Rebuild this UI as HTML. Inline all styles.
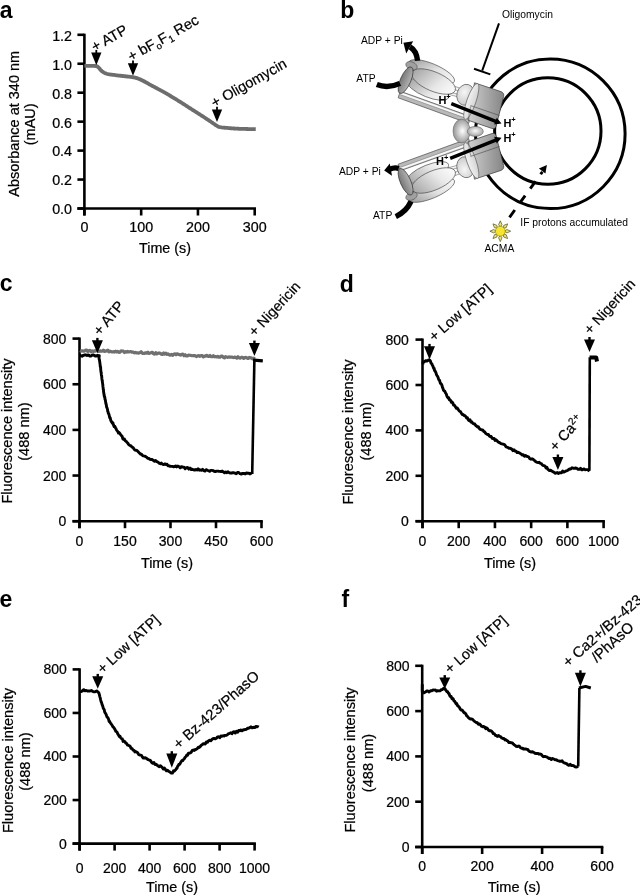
<!DOCTYPE html>
<html><head><meta charset="utf-8"><style>
html,body{margin:0;padding:0;background:#fff;}
svg{display:block;will-change:transform;}
text{font-family:"Liberation Sans", sans-serif;}
text.n{stroke:#000;stroke-width:0.22px;}
</style></head><body>
<svg width="640" height="896" viewBox="0 0 640 896">
<rect width="640" height="896" fill="#fff"/>
<text x="-0.30" y="17.50" font-size="23" text-anchor="start" font-weight="bold" fill="#000">a</text>
<line x1="84.40" y1="33.70" x2="84.40" y2="215.50" stroke="#000" stroke-width="2.6" stroke-linecap="butt"/>
<line x1="77.40" y1="208.50" x2="256.01" y2="208.50" stroke="#000" stroke-width="2.6" stroke-linecap="butt"/>
<line x1="77.40" y1="34.80" x2="84.40" y2="34.80" stroke="#000" stroke-width="2.6" stroke-linecap="butt"/>
<line x1="77.40" y1="63.75" x2="84.40" y2="63.75" stroke="#000" stroke-width="2.6" stroke-linecap="butt"/>
<line x1="77.40" y1="92.70" x2="84.40" y2="92.70" stroke="#000" stroke-width="2.6" stroke-linecap="butt"/>
<line x1="77.40" y1="121.65" x2="84.40" y2="121.65" stroke="#000" stroke-width="2.6" stroke-linecap="butt"/>
<line x1="77.40" y1="150.60" x2="84.40" y2="150.60" stroke="#000" stroke-width="2.6" stroke-linecap="butt"/>
<line x1="77.40" y1="179.55" x2="84.40" y2="179.55" stroke="#000" stroke-width="2.6" stroke-linecap="butt"/>
<line x1="141.17" y1="208.50" x2="141.17" y2="215.50" stroke="#000" stroke-width="2.6" stroke-linecap="butt"/>
<line x1="197.94" y1="208.50" x2="197.94" y2="215.50" stroke="#000" stroke-width="2.6" stroke-linecap="butt"/>
<line x1="254.71" y1="208.50" x2="254.71" y2="215.50" stroke="#000" stroke-width="2.6" stroke-linecap="butt"/>
<text x="72.00" y="40.68" font-size="14.3" text-anchor="end" class="n" fill="#000">1.2</text>
<text x="72.00" y="69.63" font-size="14.3" text-anchor="end" class="n" fill="#000">1.0</text>
<text x="72.00" y="98.58" font-size="14.3" text-anchor="end" class="n" fill="#000">0.8</text>
<text x="72.00" y="127.53" font-size="14.3" text-anchor="end" class="n" fill="#000">0.6</text>
<text x="72.00" y="156.48" font-size="14.3" text-anchor="end" class="n" fill="#000">0.4</text>
<text x="72.00" y="185.43" font-size="14.3" text-anchor="end" class="n" fill="#000">0.2</text>
<text x="141.17" y="232.20" font-size="14.3" text-anchor="middle" class="n" fill="#000">100</text>
<text x="197.94" y="232.20" font-size="14.3" text-anchor="middle" class="n" fill="#000">200</text>
<text x="254.71" y="232.20" font-size="14.3" text-anchor="middle" class="n" fill="#000">300</text>
<line x1="77.40" y1="208.50" x2="84.40" y2="208.50" stroke="#000" stroke-width="2.6" stroke-linecap="butt"/>
<text x="72.00" y="214.38" font-size="14.3" text-anchor="end" class="n" fill="#000">0.0</text>
<line x1="84.40" y1="208.50" x2="84.40" y2="215.50" stroke="#000" stroke-width="2.6" stroke-linecap="butt"/>
<text x="84.40" y="232.20" font-size="14.3" text-anchor="middle" class="n" fill="#000">0</text>
<text x="165.00" y="253.00" font-size="14.3" text-anchor="middle" class="n" fill="#000">Time (s)</text>
<text x="0.00" y="0.00" font-size="14.5" text-anchor="middle" class="n" fill="#000" transform="translate(18.60,123.80) rotate(-90)">Absorbance at 340 nm</text>
<text x="0.00" y="0.00" font-size="14.5" text-anchor="middle" class="n" fill="#000" transform="translate(35.30,124.30) rotate(-90)">(mAU)</text>
<path d="M84.40,65.90 L85.02,65.90 L85.85,65.89 L86.85,65.88 L87.96,65.87 L89.15,65.86 L90.38,65.85 L91.59,65.86 L92.76,65.87 L93.82,65.90 L94.75,65.94 L95.50,66.00 L97.11,66.34 L97.83,66.84 L98.50,67.50 L99.39,68.42 L100.23,69.51 L101.10,70.50 L102.00,71.29 L102.93,71.98 L104.00,72.60 L104.84,73.02 L105.70,73.41 L106.74,73.76 L108.10,74.10 L108.91,74.26 L109.79,74.41 L110.72,74.55 L111.73,74.69 L112.82,74.83 L113.99,74.98 L115.24,75.13 L116.60,75.30 L117.45,75.40 L118.40,75.52 L119.41,75.63 L120.48,75.75 L121.59,75.88 L122.72,76.00 L123.86,76.13 L124.98,76.26 L126.08,76.38 L127.14,76.50 L128.14,76.61 L129.06,76.72 L129.88,76.81 L130.60,76.90 L132.38,77.12 L133.42,77.27 L134.15,77.40 L135.00,77.60 L136.00,77.86 L136.96,78.14 L137.94,78.48 L139.00,78.90 L139.92,79.29 L140.87,79.73 L141.86,80.21 L142.90,80.73 L144.00,81.30 L144.76,81.71 L145.48,82.10 L146.20,82.51 L146.99,82.96 L147.89,83.47 L148.98,84.08 L150.30,84.80 L150.97,85.16 L151.69,85.55 L152.46,85.96 L153.28,86.39 L154.13,86.85 L155.02,87.31 L155.93,87.80 L156.87,88.29 L157.82,88.80 L158.78,89.31 L159.74,89.83 L160.70,90.35 L161.65,90.87 L162.59,91.38 L163.51,91.90 L164.40,92.40 L165.28,92.90 L166.15,93.41 L167.03,93.92 L167.90,94.43 L168.78,94.95 L169.65,95.47 L170.53,95.99 L171.40,96.51 L172.27,97.04 L173.15,97.57 L174.02,98.10 L174.90,98.64 L175.77,99.18 L176.65,99.72 L177.52,100.26 L178.40,100.80 L179.28,101.35 L180.16,101.90 L181.04,102.45 L181.92,103.01 L182.80,103.57 L183.68,104.13 L184.57,104.70 L185.45,105.26 L186.33,105.83 L187.22,106.40 L188.10,106.97 L188.98,107.54 L189.86,108.10 L190.74,108.67 L191.62,109.24 L192.50,109.80 L193.38,110.37 L194.28,110.94 L195.18,111.51 L196.09,112.09 L197.00,112.68 L197.91,113.26 L198.82,113.84 L199.72,114.42 L200.62,114.99 L201.51,115.56 L202.39,116.13 L203.25,116.68 L204.09,117.23 L204.92,117.77 L205.72,118.29 L206.50,118.80 L207.52,119.48 L208.55,120.16 L209.56,120.85 L210.56,121.53 L211.53,122.20 L212.47,122.84 L213.37,123.46 L214.22,124.05 L215.02,124.59 L215.75,125.09 L216.42,125.52 L217.00,125.90 L218.66,126.86 L219.50,127.00 L220.32,127.22 L221.29,127.38 L223.40,127.60 L224.08,127.66 L224.84,127.74 L225.67,127.81 L226.56,127.90 L227.51,127.98 L228.51,128.07 L229.55,128.16 L230.63,128.24 L231.74,128.33 L232.87,128.41 L234.02,128.49 L235.18,128.57 L236.34,128.64 L237.50,128.70 L238.44,128.74 L239.45,128.78 L240.51,128.82 L241.63,128.86 L242.78,128.90 L243.95,128.93 L245.14,128.96 L246.33,128.99 L247.51,129.02 L248.66,129.04 L249.79,129.07 L250.86,129.09 L251.89,129.11 L252.84,129.13 L253.72,129.15 L254.50,129.17 L255.18,129.19 L255.75,129.20" fill="none" stroke="#6d6d6d" stroke-width="3.8" stroke-linejoin="round" stroke-linecap="butt"/>
<path d="M91.15,52.50 L101.45,52.50 L96.30,65.30 Z" fill="#000"/>
<line x1="96.30" y1="49.90" x2="96.30" y2="53.50" stroke="#000" stroke-width="1.8" stroke-linecap="butt"/>
<path d="M127.85,63.20 L138.15,63.20 L133.00,75.80 Z" fill="#000"/>
<line x1="133.00" y1="60.60" x2="133.00" y2="64.20" stroke="#000" stroke-width="1.8" stroke-linecap="butt"/>
<path d="M211.85,109.40 L222.15,109.40 L217.00,122.00 Z" fill="#000"/>
<line x1="217.00" y1="106.80" x2="217.00" y2="110.40" stroke="#000" stroke-width="1.8" stroke-linecap="butt"/>
<text class="n" x="0" y="0" font-size="14.5" transform="translate(94.77,51.97) scale(1.0,1) rotate(-29.5)">+ ATP</text>
<text class="n" x="0" y="0" font-size="14.5" transform="translate(131.22,61.77) scale(1.0,1) rotate(-29.5)">+ bF<tspan font-size="9.5" dy="3">o</tspan><tspan dy="-3">F</tspan><tspan font-size="9.5" dy="3">1</tspan><tspan dy="-3"> Rec</tspan></text>
<text class="n" x="0" y="0" font-size="14.5" transform="translate(214.52,107.97) scale(1.0,1) rotate(-29.5)">+ Oligomycin</text>
<text x="-0.30" y="291.00" font-size="23" text-anchor="start" font-weight="bold" fill="#000">c</text>
<line x1="79.50" y1="337.50" x2="79.50" y2="528.20" stroke="#000" stroke-width="2.6" stroke-linecap="butt"/>
<line x1="72.50" y1="521.20" x2="262.80" y2="521.20" stroke="#000" stroke-width="2.6" stroke-linecap="butt"/>
<line x1="72.50" y1="338.60" x2="79.50" y2="338.60" stroke="#000" stroke-width="2.6" stroke-linecap="butt"/>
<line x1="72.50" y1="384.25" x2="79.50" y2="384.25" stroke="#000" stroke-width="2.6" stroke-linecap="butt"/>
<line x1="72.50" y1="429.90" x2="79.50" y2="429.90" stroke="#000" stroke-width="2.6" stroke-linecap="butt"/>
<line x1="72.50" y1="475.55" x2="79.50" y2="475.55" stroke="#000" stroke-width="2.6" stroke-linecap="butt"/>
<line x1="72.50" y1="521.20" x2="79.50" y2="521.20" stroke="#000" stroke-width="2.6" stroke-linecap="butt"/>
<line x1="79.50" y1="521.20" x2="79.50" y2="528.20" stroke="#000" stroke-width="2.6" stroke-linecap="butt"/>
<line x1="125.00" y1="521.20" x2="125.00" y2="528.20" stroke="#000" stroke-width="2.6" stroke-linecap="butt"/>
<line x1="170.50" y1="521.20" x2="170.50" y2="528.20" stroke="#000" stroke-width="2.6" stroke-linecap="butt"/>
<line x1="216.00" y1="521.20" x2="216.00" y2="528.20" stroke="#000" stroke-width="2.6" stroke-linecap="butt"/>
<line x1="261.50" y1="521.20" x2="261.50" y2="528.20" stroke="#000" stroke-width="2.6" stroke-linecap="butt"/>
<text x="66.30" y="343.57" font-size="14" text-anchor="end" class="n" fill="#000">800</text>
<text x="66.30" y="389.22" font-size="14" text-anchor="end" class="n" fill="#000">600</text>
<text x="66.30" y="434.87" font-size="14" text-anchor="end" class="n" fill="#000">400</text>
<text x="66.30" y="480.52" font-size="14" text-anchor="end" class="n" fill="#000">200</text>
<text x="66.30" y="526.17" font-size="14" text-anchor="end" class="n" fill="#000">0</text>
<text x="79.50" y="545.60" font-size="14" text-anchor="middle" class="n" fill="#000">0</text>
<text x="125.00" y="545.60" font-size="14" text-anchor="middle" class="n" fill="#000">150</text>
<text x="170.50" y="545.60" font-size="14" text-anchor="middle" class="n" fill="#000">300</text>
<text x="216.00" y="545.60" font-size="14" text-anchor="middle" class="n" fill="#000">450</text>
<text x="261.50" y="545.60" font-size="14" text-anchor="middle" class="n" fill="#000">600</text>
<text x="167.00" y="567.80" font-size="14.4" text-anchor="middle" class="n" fill="#000">Time (s)</text>
<text x="0.00" y="0.00" font-size="14.6" text-anchor="middle" class="n" fill="#000" transform="translate(12.00,431.00) rotate(-90)">Fluorescence intensity</text>
<text x="0.00" y="0.00" font-size="14.6" text-anchor="middle" class="n" fill="#000" transform="translate(28.90,431.60) rotate(-90)">(488 nm)</text>
<path d="M80.00,350.53 L81.11,351.07 L82.22,350.74 L83.33,351.15 L84.44,351.18 L85.56,350.16 L86.67,350.06 L87.78,351.53 L88.89,350.48 L90.00,350.42 L91.11,351.78 L92.22,350.82 L93.33,351.47 L94.44,350.81 L95.56,351.09 L96.67,350.20 L97.78,351.06 L98.89,351.47 L100.00,350.84 L101.11,351.28 L102.22,351.19 L103.33,350.14 L104.44,351.43 L105.56,351.17 L106.67,350.69 L107.78,350.25 L108.89,351.79 L110.00,351.13 L111.11,351.61 L112.22,351.94 L113.33,351.69 L114.44,352.10 L115.56,351.19 L116.67,351.97 L117.78,351.37 L118.89,352.29 L120.00,352.23 L121.11,350.87 L122.22,350.98 L123.33,351.17 L124.44,352.55 L125.56,351.64 L126.67,352.03 L127.78,351.48 L128.89,351.90 L130.00,351.72 L131.11,351.70 L132.22,352.16 L133.33,352.20 L134.44,352.82 L135.56,352.46 L136.67,352.95 L137.78,352.86 L138.89,353.14 L140.00,352.61 L141.12,351.77 L142.25,353.10 L143.38,353.36 L144.50,353.32 L145.62,352.79 L146.75,353.12 L147.88,352.29 L149.00,353.48 L150.12,353.09 L151.25,352.65 L152.38,352.32 L153.50,353.82 L154.62,354.13 L155.75,352.59 L156.88,353.94 L158.00,353.31 L159.12,352.92 L160.25,353.25 L161.38,354.18 L162.50,354.44 L163.62,353.02 L164.75,354.12 L165.88,353.17 L167.00,354.45 L168.12,353.83 L169.25,354.89 L170.38,355.15 L171.50,354.36 L172.62,355.32 L173.75,354.16 L174.89,353.80 L176.03,354.80 L177.17,353.84 L178.32,354.20 L179.46,354.64 L180.60,355.06 L181.74,354.31 L182.88,354.16 L184.02,355.71 L185.16,354.77 L186.30,356.00 L187.45,355.94 L188.59,355.07 L189.73,355.28 L190.87,355.45 L192.01,355.73 L193.15,355.71 L194.29,355.70 L195.43,355.87 L196.58,356.51 L197.72,355.79 L198.86,355.72 L200.00,356.30 L201.11,355.48 L202.22,355.65 L203.33,356.92 L204.44,356.15 L205.56,356.25 L206.67,355.33 L207.78,356.11 L208.89,356.46 L210.00,355.50 L211.11,356.63 L212.22,356.71 L213.33,355.73 L214.44,356.80 L215.56,356.57 L216.67,357.00 L217.78,356.46 L218.89,357.15 L220.00,357.26 L221.11,356.03 L222.22,356.15 L223.33,357.31 L224.44,357.87 L225.56,356.64 L226.67,357.07 L227.78,357.36 L228.89,356.92 L230.00,357.06 L231.14,357.01 L232.27,357.16 L233.41,357.62 L234.55,357.14 L235.68,357.33 L236.82,358.09 L237.95,356.80 L239.09,357.82 L240.23,358.17 L241.36,357.46 L242.50,357.35 L243.64,358.45 L244.77,357.48 L245.91,357.44 L247.05,357.93 L248.18,358.46 L249.32,357.43 L250.45,357.88 L251.59,357.95 L252.73,358.90 L253.86,358.24 L255.00,359.04" fill="none" stroke="#707070" stroke-width="3.2" stroke-linejoin="round" stroke-linecap="butt"/>
<path d="M79.50,355.00 L80.16,355.30 L81.00,355.85 L82.00,356.26 L83.12,355.46 L84.35,355.02 L85.66,354.81 L87.02,355.52 L88.41,354.89 L89.80,355.99 L91.17,356.03 L92.49,354.85 L93.74,355.03 L94.89,356.00 L95.92,355.74 L96.80,356.09 L97.50,355.32 L99.29,355.63 L99.00,357.63 L99.20,359.37 L99.39,359.44 L99.58,360.71 L99.76,362.06 L99.94,363.33 L100.12,364.59 L100.30,366.76 L100.45,366.42 L100.59,367.15 L100.73,369.84 L100.86,370.75 L101.00,372.02 L101.15,372.19 L101.32,374.39 L101.50,375.77 L101.62,375.47 L101.76,377.48 L101.90,378.78 L102.04,379.66 L102.19,380.64 L102.35,381.49 L102.50,382.85 L102.66,383.90 L102.81,384.85 L102.97,386.98 L103.12,387.58 L103.26,389.58 L103.40,389.18 L103.61,392.14 L103.81,393.03 L104.01,394.60 L104.20,395.62 L104.39,396.64 L104.59,397.06 L104.79,397.06 L105.00,399.44 L105.25,399.66 L105.52,401.13 L105.78,403.02 L106.06,404.00 L106.33,405.00 L106.62,407.13 L106.90,407.70 L107.19,408.35 L107.48,409.33 L107.78,411.53 L108.08,411.93 L108.38,413.53 L108.69,413.77 L109.00,414.46 L109.40,416.26 L109.77,417.81 L110.16,417.66 L110.64,419.86 L111.25,421.36 L111.73,422.09 L112.28,423.15 L112.88,422.79 L113.52,425.04 L114.16,426.59 L114.81,426.23 L115.43,427.66 L116.00,428.58 L116.68,430.10 L117.28,430.82 L117.87,431.73 L118.48,433.09 L119.17,432.58 L120.00,433.70 L120.64,434.62 L121.33,435.46 L122.08,436.26 L122.86,438.82 L123.66,439.55 L124.48,439.11 L125.30,440.78 L126.11,441.33 L126.90,442.17 L127.77,443.12 L128.63,444.51 L129.49,445.23 L130.35,445.62 L131.23,446.11 L132.12,447.14 L133.04,447.54 L134.00,449.10 L134.89,450.09 L135.81,450.19 L136.77,450.35 L137.74,451.23 L138.71,452.27 L139.69,453.35 L140.65,454.32 L141.59,454.21 L142.50,455.54 L143.62,455.90 L144.70,456.19 L145.76,456.67 L146.80,457.44 L147.85,458.34 L148.91,458.34 L150.00,459.35 L151.12,459.44 L152.25,459.54 L153.39,460.53 L154.55,461.28 L155.70,460.60 L156.85,461.66 L158.00,462.07 L159.15,463.27 L160.29,463.75 L161.44,463.09 L162.59,464.38 L163.73,464.51 L164.87,463.87 L166.00,464.54 L167.05,464.20 L167.98,465.68 L168.89,465.63 L169.85,466.26 L170.92,466.31 L172.20,466.33 L173.75,466.72 L174.65,466.57 L175.64,465.90 L176.69,466.94 L177.81,466.07 L178.98,466.50 L180.19,467.82 L181.42,466.69 L182.68,466.96 L183.94,467.15 L185.20,468.74 L186.45,467.65 L187.67,467.54 L188.86,469.17 L190.00,468.02 L191.19,469.47 L192.38,469.31 L193.55,469.74 L194.71,470.08 L195.86,469.53 L197.01,470.05 L198.15,468.79 L199.29,470.22 L200.43,469.88 L201.56,470.35 L202.70,469.37 L203.85,470.64 L205.00,471.08 L206.15,469.62 L207.30,470.20 L208.44,470.73 L209.57,471.31 L210.71,470.35 L211.85,470.34 L212.99,470.56 L214.14,471.32 L215.29,471.66 L216.45,471.11 L217.62,471.16 L218.81,471.31 L220.00,471.33 L221.12,471.55 L222.26,471.05 L223.40,471.90 L224.56,472.86 L225.72,471.96 L226.89,472.66 L228.07,471.71 L229.24,472.77 L230.42,472.99 L231.59,472.95 L232.77,472.76 L233.93,472.80 L235.10,473.17 L236.25,473.72 L237.44,472.45 L238.68,472.44 L239.98,473.69 L241.29,474.07 L242.62,473.43 L243.94,473.37 L245.24,473.93 L246.50,473.04 L247.69,473.25 L248.81,473.18 L249.84,473.93 L250.76,473.49 L251.55,473.38 L252.20,474.24" fill="none" stroke="#000" stroke-width="2.9" stroke-linejoin="round" stroke-linecap="butt"/>
<path d="M252.20,473.90 L254.40,359.20" fill="none" stroke="#000" stroke-width="2.6" stroke-linejoin="round" stroke-linecap="butt"/>
<path d="M253.20,360.00 L262.80,360.80" fill="none" stroke="#000" stroke-width="3.2" stroke-linejoin="round" stroke-linecap="butt"/>
<path d="M91.90,340.30 L102.90,340.30 L97.40,353.30 Z" fill="#000"/>
<line x1="97.40" y1="337.90" x2="97.40" y2="341.30" stroke="#000" stroke-width="2.4" stroke-linecap="butt"/>
<path d="M248.90,343.00 L259.90,343.00 L254.40,356.00 Z" fill="#000"/>
<line x1="254.40" y1="340.60" x2="254.40" y2="344.00" stroke="#000" stroke-width="2.4" stroke-linecap="butt"/>
<text class="n" x="0" y="0" font-size="14.7" transform="translate(99.97,336.60) scale(1.0,1) rotate(-50.5)">+ ATP</text>
<text class="n" x="0" y="0" font-size="14.4" transform="translate(254.78,337.32) scale(1.0,1) rotate(-47.2)">+ Nigericin</text>
<text x="339.70" y="291.60" font-size="23" text-anchor="start" font-weight="bold" fill="#000">d</text>
<line x1="422.50" y1="338.50" x2="422.50" y2="528.20" stroke="#000" stroke-width="2.6" stroke-linecap="butt"/>
<line x1="415.50" y1="521.20" x2="604.90" y2="521.20" stroke="#000" stroke-width="2.6" stroke-linecap="butt"/>
<line x1="415.50" y1="339.60" x2="422.50" y2="339.60" stroke="#000" stroke-width="2.6" stroke-linecap="butt"/>
<line x1="415.50" y1="385.00" x2="422.50" y2="385.00" stroke="#000" stroke-width="2.6" stroke-linecap="butt"/>
<line x1="415.50" y1="430.40" x2="422.50" y2="430.40" stroke="#000" stroke-width="2.6" stroke-linecap="butt"/>
<line x1="415.50" y1="475.80" x2="422.50" y2="475.80" stroke="#000" stroke-width="2.6" stroke-linecap="butt"/>
<line x1="415.50" y1="521.20" x2="422.50" y2="521.20" stroke="#000" stroke-width="2.6" stroke-linecap="butt"/>
<line x1="422.50" y1="521.20" x2="422.50" y2="528.20" stroke="#000" stroke-width="2.6" stroke-linecap="butt"/>
<line x1="458.72" y1="521.20" x2="458.72" y2="528.20" stroke="#000" stroke-width="2.6" stroke-linecap="butt"/>
<line x1="494.94" y1="521.20" x2="494.94" y2="528.20" stroke="#000" stroke-width="2.6" stroke-linecap="butt"/>
<line x1="531.16" y1="521.20" x2="531.16" y2="528.20" stroke="#000" stroke-width="2.6" stroke-linecap="butt"/>
<line x1="567.38" y1="521.20" x2="567.38" y2="528.20" stroke="#000" stroke-width="2.6" stroke-linecap="butt"/>
<line x1="603.60" y1="521.20" x2="603.60" y2="528.20" stroke="#000" stroke-width="2.6" stroke-linecap="butt"/>
<text x="408.80" y="344.57" font-size="14" text-anchor="end" class="n" fill="#000">800</text>
<text x="408.80" y="389.97" font-size="14" text-anchor="end" class="n" fill="#000">600</text>
<text x="408.80" y="435.37" font-size="14" text-anchor="end" class="n" fill="#000">400</text>
<text x="408.80" y="480.77" font-size="14" text-anchor="end" class="n" fill="#000">200</text>
<text x="408.80" y="526.17" font-size="14" text-anchor="end" class="n" fill="#000">0</text>
<text x="422.50" y="545.60" font-size="14" text-anchor="middle" class="n" fill="#000">0</text>
<text x="458.72" y="545.60" font-size="14" text-anchor="middle" class="n" fill="#000">200</text>
<text x="494.94" y="545.60" font-size="14" text-anchor="middle" class="n" fill="#000">400</text>
<text x="531.16" y="545.60" font-size="14" text-anchor="middle" class="n" fill="#000">600</text>
<text x="567.38" y="545.60" font-size="14" text-anchor="middle" class="n" fill="#000">600</text>
<text x="603.60" y="545.60" font-size="14" text-anchor="middle" class="n" fill="#000">1000</text>
<text x="510.00" y="567.50" font-size="14.4" text-anchor="middle" class="n" fill="#000">Time (s)</text>
<text x="0.00" y="0.00" font-size="14.6" text-anchor="middle" class="n" fill="#000" transform="translate(353.40,432.00) rotate(-90)">Fluorescence intensity</text>
<text x="0.00" y="0.00" font-size="14.6" text-anchor="middle" class="n" fill="#000" transform="translate(370.50,431.30) rotate(-90)">(488 nm)</text>
<path d="M422.80,364.22 L423.31,362.02 L424.40,361.62 L425.40,360.69 L426.67,361.11 L427.96,360.41 L429.00,359.88 L429.83,360.33 L430.37,360.93 L431.00,362.96 L431.45,363.52 L431.88,363.88 L432.36,365.10 L432.96,366.19 L433.75,368.59 L434.12,368.22 L434.52,370.59 L434.95,370.60 L435.41,371.80 L435.90,372.61 L436.40,374.35 L436.91,375.45 L437.44,376.10 L437.96,377.10 L438.49,378.66 L439.00,380.02 L439.51,380.28 L440.00,381.92 L440.51,383.43 L441.01,383.64 L441.49,384.30 L441.97,385.40 L442.45,387.36 L442.93,388.37 L443.43,389.96 L443.94,390.86 L444.47,390.83 L445.03,391.81 L445.62,393.00 L446.25,393.94 L446.82,395.78 L447.42,396.99 L448.05,397.99 L448.69,397.76 L449.36,399.79 L450.04,399.72 L450.73,400.84 L451.43,402.31 L452.13,402.05 L452.83,402.94 L453.54,405.14 L454.23,405.01 L454.92,405.95 L455.60,407.14 L456.44,408.28 L457.26,407.99 L458.08,409.45 L458.88,410.46 L459.69,411.37 L460.51,411.67 L461.35,413.14 L462.21,414.60 L463.10,414.40 L464.03,415.51 L465.00,415.61 L465.79,416.59 L466.60,417.99 L467.42,417.70 L468.26,419.80 L469.11,420.54 L469.98,419.79 L470.86,422.03 L471.76,421.74 L472.68,423.19 L473.61,423.90 L474.56,423.82 L475.52,425.26 L476.50,425.99 L477.50,427.05 L478.34,426.74 L479.19,428.29 L480.07,429.36 L480.96,429.55 L481.86,430.02 L482.77,429.98 L483.70,431.39 L484.63,431.87 L485.57,433.26 L486.52,433.91 L487.47,434.44 L488.41,434.46 L489.36,436.00 L490.30,436.66 L491.24,436.53 L492.18,438.46 L493.10,438.68 L494.08,438.38 L495.05,440.48 L496.03,439.69 L497.01,440.66 L497.99,441.97 L498.97,442.35 L499.94,442.87 L500.92,443.62 L501.90,443.86 L502.88,444.16 L503.86,444.48 L504.84,444.84 L505.81,446.56 L506.79,447.18 L507.77,447.34 L508.75,448.23 L509.79,448.11 L510.84,448.50 L511.88,449.25 L512.92,450.67 L513.97,449.69 L515.01,451.04 L516.06,451.09 L517.10,452.54 L518.14,452.29 L519.19,452.76 L520.23,453.39 L521.27,454.14 L522.32,455.06 L523.36,454.82 L524.40,456.22 L525.45,455.42 L526.53,456.24 L527.62,456.46 L528.73,457.02 L529.83,458.76 L530.94,459.20 L532.04,458.76 L533.13,459.30 L534.21,460.24 L535.26,461.35 L536.29,462.00 L537.28,462.38 L538.23,462.60 L539.14,462.29 L540.00,463.22 L541.20,463.55 L542.30,464.86 L543.33,465.62 L544.28,465.65 L545.19,466.39 L546.05,467.99 L546.89,467.25 L547.72,469.21 L548.55,469.91 L549.40,470.51 L550.60,470.14 L551.75,471.05 L552.85,471.65 L553.94,472.21 L555.02,473.21 L556.10,472.97 L557.20,472.44 L558.30,473.48 L559.38,472.71 L560.46,472.73 L561.55,472.68 L562.65,471.05 L563.80,472.08 L565.00,471.54 L566.10,470.89 L567.24,470.51 L568.41,469.91 L569.60,468.93 L570.81,469.06 L572.02,467.76 L573.22,468.28 L574.40,468.36 L575.60,467.98 L576.83,468.30 L578.07,469.21 L579.31,469.35 L580.52,468.29 L581.67,469.76 L582.76,469.72 L583.75,468.89 L585.21,469.69 L586.55,469.67 L587.72,469.58 L588.69,470.56 L589.40,471.37" fill="none" stroke="#000" stroke-width="2.9" stroke-linejoin="round" stroke-linecap="butt"/>
<path d="M589.40,470.60 L589.80,357.20" fill="none" stroke="#000" stroke-width="2.6" stroke-linejoin="round" stroke-linecap="butt"/>
<path d="M589.60,357.60 L596.20,357.40 L597.00,361.50" fill="none" stroke="#000" stroke-width="4.0" stroke-linejoin="round" stroke-linecap="butt"/>
<path d="M424.00,346.30 L435.00,346.30 L429.50,359.50 Z" fill="#000"/>
<line x1="429.50" y1="343.90" x2="429.50" y2="347.30" stroke="#000" stroke-width="2.4" stroke-linecap="butt"/>
<path d="M552.40,456.90 L563.40,456.90 L557.90,470.00 Z" fill="#000"/>
<line x1="557.90" y1="454.50" x2="557.90" y2="457.90" stroke="#000" stroke-width="2.4" stroke-linecap="butt"/>
<path d="M584.00,339.40 L595.00,339.40 L589.50,352.10 Z" fill="#000"/>
<line x1="589.50" y1="337.00" x2="589.50" y2="340.40" stroke="#000" stroke-width="2.4" stroke-linecap="butt"/>
<text class="n" x="0" y="0" font-size="14.5" transform="translate(434.15,342.30) scale(1.0,1) rotate(-41.5)">+ Low [ATP]</text>
<text class="n" x="0" y="0" font-size="14.4" transform="translate(555.82,451.91) scale(1.0,1) rotate(-48.5)">+ Ca<tspan font-size="10" dy="-5">2+</tspan></text>
<text class="n" x="0" y="0" font-size="14.4" transform="translate(590.27,335.31) scale(1.0,1) rotate(-48)">+ Nigericin</text>
<text x="-0.50" y="606.80" font-size="23" text-anchor="start" font-weight="bold" fill="#000">e</text>
<line x1="79.60" y1="668.30" x2="79.60" y2="850.60" stroke="#000" stroke-width="2.6" stroke-linecap="butt"/>
<line x1="72.60" y1="843.60" x2="255.90" y2="843.60" stroke="#000" stroke-width="2.6" stroke-linecap="butt"/>
<line x1="72.60" y1="669.40" x2="79.60" y2="669.40" stroke="#000" stroke-width="2.6" stroke-linecap="butt"/>
<line x1="72.60" y1="712.95" x2="79.60" y2="712.95" stroke="#000" stroke-width="2.6" stroke-linecap="butt"/>
<line x1="72.60" y1="756.50" x2="79.60" y2="756.50" stroke="#000" stroke-width="2.6" stroke-linecap="butt"/>
<line x1="72.60" y1="800.05" x2="79.60" y2="800.05" stroke="#000" stroke-width="2.6" stroke-linecap="butt"/>
<line x1="72.60" y1="843.60" x2="79.60" y2="843.60" stroke="#000" stroke-width="2.6" stroke-linecap="butt"/>
<line x1="79.60" y1="843.60" x2="79.60" y2="850.60" stroke="#000" stroke-width="2.6" stroke-linecap="butt"/>
<line x1="114.60" y1="843.60" x2="114.60" y2="850.60" stroke="#000" stroke-width="2.6" stroke-linecap="butt"/>
<line x1="149.60" y1="843.60" x2="149.60" y2="850.60" stroke="#000" stroke-width="2.6" stroke-linecap="butt"/>
<line x1="184.60" y1="843.60" x2="184.60" y2="850.60" stroke="#000" stroke-width="2.6" stroke-linecap="butt"/>
<line x1="219.60" y1="843.60" x2="219.60" y2="850.60" stroke="#000" stroke-width="2.6" stroke-linecap="butt"/>
<line x1="254.60" y1="843.60" x2="254.60" y2="850.60" stroke="#000" stroke-width="2.6" stroke-linecap="butt"/>
<text x="66.80" y="674.37" font-size="14" text-anchor="end" class="n" fill="#000">800</text>
<text x="66.80" y="717.92" font-size="14" text-anchor="end" class="n" fill="#000">600</text>
<text x="66.80" y="761.47" font-size="14" text-anchor="end" class="n" fill="#000">400</text>
<text x="66.80" y="805.02" font-size="14" text-anchor="end" class="n" fill="#000">200</text>
<text x="66.80" y="848.57" font-size="14" text-anchor="end" class="n" fill="#000">0</text>
<text x="79.60" y="873.00" font-size="14" text-anchor="middle" class="n" fill="#000">0</text>
<text x="114.60" y="873.00" font-size="14" text-anchor="middle" class="n" fill="#000">200</text>
<text x="149.60" y="873.00" font-size="14" text-anchor="middle" class="n" fill="#000">400</text>
<text x="184.60" y="873.00" font-size="14" text-anchor="middle" class="n" fill="#000">600</text>
<text x="219.60" y="873.00" font-size="14" text-anchor="middle" class="n" fill="#000">800</text>
<text x="254.60" y="873.00" font-size="14" text-anchor="middle" class="n" fill="#000">1000</text>
<text x="172.00" y="891.50" font-size="14.4" text-anchor="middle" class="n" fill="#000">Time (s)</text>
<text x="0.00" y="0.00" font-size="14.6" text-anchor="middle" class="n" fill="#000" transform="translate(13.20,760.50) rotate(-90)">Fluorescence intensity</text>
<text x="0.00" y="0.00" font-size="14.6" text-anchor="middle" class="n" fill="#000" transform="translate(30.00,761.60) rotate(-90)">(488 nm)</text>
<path d="M80.60,690.58 L81.38,691.42 L82.49,690.88 L83.75,689.66 L85.00,690.84 L86.21,690.40 L87.46,691.09 L88.74,690.85 L90.00,691.03 L91.30,690.46 L92.62,691.45 L93.89,691.83 L95.00,691.85 L96.67,690.93 L98.00,692.16 L98.41,692.44 L98.79,692.78 L99.14,693.85 L99.50,695.23 L99.88,696.83 L100.30,698.14 L100.64,699.79 L100.98,701.25 L101.33,702.09 L101.70,703.04 L102.09,704.65 L102.49,705.25 L102.93,706.78 L103.40,708.56 L103.81,708.96 L104.24,709.65 L104.69,712.07 L105.16,712.89 L105.65,713.40 L106.14,714.55 L106.64,715.95 L107.13,717.16 L107.62,717.53 L108.10,718.10 L108.67,719.59 L109.20,721.63 L109.73,721.41 L110.26,722.88 L110.81,723.30 L111.41,724.26 L112.06,725.20 L112.80,726.73 L113.34,727.12 L113.92,727.73 L114.53,728.78 L115.17,729.83 L115.83,731.37 L116.51,731.56 L117.19,732.47 L117.89,734.19 L118.58,735.06 L119.26,736.49 L119.94,736.18 L120.60,737.63 L121.46,738.62 L122.30,738.89 L123.14,741.47 L123.98,740.97 L124.82,741.57 L125.68,743.07 L126.56,743.32 L127.46,744.97 L128.40,745.32 L129.28,745.71 L130.18,746.38 L131.10,748.40 L132.04,748.39 L133.00,750.11 L133.96,750.33 L134.93,751.95 L135.89,751.58 L136.85,752.23 L137.80,752.98 L138.73,754.66 L139.66,755.00 L140.57,755.15 L141.49,755.34 L142.41,757.02 L143.33,758.15 L144.27,758.08 L145.22,757.62 L146.20,758.26 L147.20,758.96 L148.25,759.70 L149.35,760.04 L150.49,760.65 L151.64,762.31 L152.81,763.31 L153.96,762.61 L155.08,764.54 L156.15,764.17 L157.17,765.26 L158.10,765.95 L159.33,766.66 L160.46,765.66 L161.52,766.76 L162.49,767.88 L163.39,769.03 L164.23,767.99 L165.00,768.83 L166.44,770.76 L167.51,770.18 L168.50,771.30 L169.98,772.08 L171.30,773.12 L172.43,773.11 L173.50,770.81 L174.20,771.22 L174.92,770.47 L175.90,769.50 L176.42,768.33 L176.98,768.23 L177.59,766.38 L178.25,765.57 L178.96,764.27 L179.75,764.25 L180.60,762.67 L181.25,761.51 L181.96,760.49 L182.71,760.60 L183.49,759.47 L184.30,758.74 L185.13,757.23 L185.96,756.50 L186.79,755.04 L187.60,755.22 L188.40,753.24 L189.38,753.20 L190.36,752.95 L191.34,752.09 L192.32,750.38 L193.30,749.99 L194.29,750.46 L195.27,749.48 L196.25,749.28 L197.23,748.64 L198.21,747.26 L199.20,747.46 L200.18,746.57 L201.16,745.27 L202.14,744.77 L203.12,743.67 L204.10,743.72 L205.22,744.11 L206.33,741.99 L207.45,742.25 L208.56,740.87 L209.67,740.28 L210.79,740.78 L211.90,739.53 L213.01,738.70 L214.13,738.41 L215.24,738.84 L216.36,738.29 L217.47,736.83 L218.59,736.81 L219.70,737.74 L220.81,736.02 L221.93,736.27 L223.04,735.67 L224.16,735.99 L225.27,735.35 L226.39,735.35 L227.50,734.56 L228.61,733.61 L229.73,733.26 L230.84,732.75 L231.96,733.77 L233.07,732.16 L234.19,731.68 L235.30,733.04 L236.41,731.32 L237.53,732.23 L238.64,730.43 L239.76,730.76 L240.87,729.98 L241.99,730.73 L243.10,730.01 L244.21,729.71 L245.33,729.56 L246.44,729.40 L247.55,728.10 L248.67,728.23 L249.78,727.65 L250.90,726.80 L252.09,727.90 L253.37,727.31 L254.67,727.58 L255.93,726.38 L257.08,726.90 L258.04,726.69 L258.75,727.11" fill="none" stroke="#000" stroke-width="2.9" stroke-linejoin="round" stroke-linecap="butt"/>
<path d="M92.25,676.30 L103.25,676.30 L97.75,688.80 Z" fill="#000"/>
<line x1="97.75" y1="673.90" x2="97.75" y2="677.30" stroke="#000" stroke-width="2.4" stroke-linecap="butt"/>
<path d="M166.30,753.60 L177.30,753.60 L171.80,767.80 Z" fill="#000"/>
<line x1="171.80" y1="751.20" x2="171.80" y2="754.60" stroke="#000" stroke-width="2.4" stroke-linecap="butt"/>
<text class="n" x="0" y="0" font-size="14.6" transform="translate(102.70,674.44) scale(1.0,1) rotate(-42.8)">+ Low [ATP]</text>
<text class="n" x="0" y="0" font-size="14.8" transform="translate(178.65,749.64) scale(1.0,1) rotate(-41.5)">+ Bz-423/PhasO</text>
<text x="341.50" y="606.50" font-size="23" text-anchor="start" font-weight="bold" fill="#000">f</text>
<line x1="422.20" y1="664.70" x2="422.20" y2="854.00" stroke="#000" stroke-width="2.6" stroke-linecap="butt"/>
<line x1="415.20" y1="847.00" x2="603.35" y2="847.00" stroke="#000" stroke-width="2.6" stroke-linecap="butt"/>
<line x1="415.20" y1="665.80" x2="422.20" y2="665.80" stroke="#000" stroke-width="2.6" stroke-linecap="butt"/>
<line x1="415.20" y1="711.10" x2="422.20" y2="711.10" stroke="#000" stroke-width="2.6" stroke-linecap="butt"/>
<line x1="415.20" y1="756.40" x2="422.20" y2="756.40" stroke="#000" stroke-width="2.6" stroke-linecap="butt"/>
<line x1="415.20" y1="801.70" x2="422.20" y2="801.70" stroke="#000" stroke-width="2.6" stroke-linecap="butt"/>
<line x1="415.20" y1="847.00" x2="422.20" y2="847.00" stroke="#000" stroke-width="2.6" stroke-linecap="butt"/>
<line x1="422.20" y1="847.00" x2="422.20" y2="854.00" stroke="#000" stroke-width="2.6" stroke-linecap="butt"/>
<line x1="482.15" y1="847.00" x2="482.15" y2="854.00" stroke="#000" stroke-width="2.6" stroke-linecap="butt"/>
<line x1="542.10" y1="847.00" x2="542.10" y2="854.00" stroke="#000" stroke-width="2.6" stroke-linecap="butt"/>
<line x1="602.05" y1="847.00" x2="602.05" y2="854.00" stroke="#000" stroke-width="2.6" stroke-linecap="butt"/>
<text x="409.50" y="670.77" font-size="14" text-anchor="end" class="n" fill="#000">800</text>
<text x="409.50" y="716.07" font-size="14" text-anchor="end" class="n" fill="#000">600</text>
<text x="409.50" y="761.37" font-size="14" text-anchor="end" class="n" fill="#000">400</text>
<text x="409.50" y="806.67" font-size="14" text-anchor="end" class="n" fill="#000">200</text>
<text x="409.50" y="851.97" font-size="14" text-anchor="end" class="n" fill="#000">0</text>
<text x="422.20" y="871.00" font-size="14" text-anchor="middle" class="n" fill="#000">0</text>
<text x="482.15" y="871.00" font-size="14" text-anchor="middle" class="n" fill="#000">200</text>
<text x="542.10" y="871.00" font-size="14" text-anchor="middle" class="n" fill="#000">400</text>
<text x="602.05" y="871.00" font-size="14" text-anchor="middle" class="n" fill="#000">600</text>
<text x="514.20" y="891.80" font-size="14.6" text-anchor="middle" class="n" fill="#000">Time (s)</text>
<text x="0.00" y="0.00" font-size="14.6" text-anchor="middle" class="n" fill="#000" transform="translate(354.50,760.00) rotate(-90)">Fluorescence intensity</text>
<text x="0.00" y="0.00" font-size="14.6" text-anchor="middle" class="n" fill="#000" transform="translate(372.50,763.00) rotate(-90)">(488 nm)</text>
<path d="M422.30,684.24 L422.30,685.64 L422.27,687.23 L422.25,688.03 L422.27,690.44 L422.38,692.07 L422.60,692.36 L423.77,692.84 L425.80,691.79 L426.77,690.95 L427.91,691.06 L429.16,692.09 L430.47,690.77 L431.77,690.81 L433.00,690.05 L434.20,690.16 L435.42,689.95 L436.64,691.20 L437.82,690.71 L438.95,690.83 L440.00,690.88 L441.33,689.66 L442.47,689.48 L443.62,688.35 L445.00,688.60 L445.59,690.05 L446.23,690.63 L446.90,691.53 L447.60,691.61 L448.31,693.13 L449.03,693.53 L449.76,695.67 L450.48,696.61 L451.18,696.52 L451.86,698.65 L452.50,698.18 L453.25,699.02 L453.97,701.11 L454.68,701.28 L455.36,702.61 L456.04,703.72 L456.71,703.52 L457.39,705.65 L458.06,705.66 L458.75,706.78 L459.52,707.54 L460.28,709.15 L461.04,710.03 L461.80,710.06 L462.56,710.57 L463.35,711.75 L464.16,712.77 L465.00,712.99 L465.85,713.93 L466.70,715.81 L467.56,716.47 L468.44,717.73 L469.36,718.50 L470.33,719.08 L471.37,718.96 L472.50,719.39 L473.38,720.26 L474.30,721.13 L475.26,721.85 L476.26,722.49 L477.29,722.77 L478.34,724.28 L479.41,723.89 L480.49,724.85 L481.58,726.26 L482.67,726.78 L483.75,726.54 L484.67,727.02 L485.60,728.64 L486.55,727.83 L487.50,728.68 L488.47,730.04 L489.44,730.69 L490.41,730.67 L491.39,731.11 L492.36,732.02 L493.34,733.67 L494.31,733.75 L495.29,735.28 L496.25,735.51 L497.31,736.49 L498.39,735.42 L499.49,736.32 L500.60,736.63 L501.71,738.00 L502.81,738.43 L503.90,738.50 L504.95,739.96 L505.98,739.70 L506.96,740.61 L507.88,740.99 L508.75,742.44 L510.09,742.46 L511.29,742.79 L512.38,742.95 L513.39,744.14 L514.34,744.95 L515.29,745.48 L516.25,746.34 L517.36,746.64 L518.43,746.07 L519.45,746.27 L520.46,747.78 L521.47,748.22 L522.50,748.12 L523.54,749.12 L524.58,749.05 L525.62,748.99 L526.67,749.21 L527.71,749.35 L528.75,750.86 L530.00,751.72 L531.25,752.11 L532.50,751.67 L533.75,752.39 L535.00,753.27 L536.04,753.45 L537.08,753.47 L538.12,753.56 L539.17,754.18 L540.21,753.98 L541.25,754.43 L542.29,755.75 L543.33,756.74 L544.38,756.37 L545.42,756.55 L546.46,756.85 L547.50,757.42 L548.75,758.47 L550.00,758.25 L551.25,759.55 L552.50,758.45 L553.75,759.07 L555.00,759.69 L556.25,759.68 L557.50,760.65 L558.75,760.84 L560.00,761.38 L561.04,761.23 L562.08,760.71 L563.12,762.27 L564.17,762.81 L565.21,763.26 L566.25,763.35 L567.54,764.60 L568.87,765.38 L570.18,764.29 L571.41,765.63 L572.50,765.37 L574.00,765.96 L575.22,766.84 L576.25,767.08 L578.30,766.46" fill="none" stroke="#000" stroke-width="2.9" stroke-linejoin="round" stroke-linecap="butt"/>
<path d="M578.20,766.50 L579.40,688.00" fill="none" stroke="#000" stroke-width="2.6" stroke-linejoin="round" stroke-linecap="butt"/>
<path d="M578.90,688.00 L585.60,686.40 L590.80,688.00" fill="none" stroke="#000" stroke-width="3.0" stroke-linejoin="round" stroke-linecap="butt"/>
<path d="M439.25,677.50 L450.25,677.50 L444.75,688.80 Z" fill="#000"/>
<line x1="444.75" y1="675.10" x2="444.75" y2="678.50" stroke="#000" stroke-width="2.4" stroke-linecap="butt"/>
<path d="M574.90,672.70 L585.90,672.70 L580.40,686.40 Z" fill="#000"/>
<line x1="580.40" y1="670.30" x2="580.40" y2="673.70" stroke="#000" stroke-width="2.4" stroke-linecap="butt"/>
<text class="n" x="0" y="0" font-size="14.5" transform="translate(450.11,674.40) scale(1.0,1) rotate(-42)">+ Low [ATP]</text>
<text class="n" x="0" y="0" font-size="14.9" transform="translate(568.15,667.68) scale(1.0,1) rotate(-41.5)">+ Ca2+/Bz-423</text>
<text class="n" x="0" y="0" font-size="14.9" transform="translate(597.00,663.00) scale(1.0,1) rotate(-42.5)">/PhAsO</text>
<defs>
<linearGradient id="gBar" x1="0" y1="0" x2="1" y2="0"><stop offset="0" stop-color="#9a9a9a"/><stop offset="0.55" stop-color="#d8d8d8"/><stop offset="1" stop-color="#eeeeee"/></linearGradient>
<linearGradient id="gBarrel" x1="0" y1="0" x2="1" y2="0.3"><stop offset="0" stop-color="#8e8e8e"/><stop offset="0.6" stop-color="#e2e2e2"/><stop offset="1" stop-color="#f4f4f4"/></linearGradient>
<linearGradient id="gBarrel2" x1="0" y1="0" x2="1" y2="0.2"><stop offset="0" stop-color="#9c9c9c"/><stop offset="0.7" stop-color="#e8e8e8"/><stop offset="1" stop-color="#f8f8f8"/></linearGradient>
<linearGradient id="gCap" x1="0" y1="0" x2="1" y2="0"><stop offset="0" stop-color="#777"/><stop offset="1" stop-color="#b4b4b4"/></linearGradient>
<linearGradient id="gFo" x1="0" y1="0" x2="1" y2="0"><stop offset="0" stop-color="#d0d0d0"/><stop offset="1" stop-color="#858585"/></linearGradient>
<linearGradient id="gFace" x1="0" y1="0" x2="1" y2="0"><stop offset="0" stop-color="#f2f2f2"/><stop offset="1" stop-color="#d4d4d4"/></linearGradient>
<radialGradient id="gDelta" cx="0.4" cy="0.4" r="0.7"><stop offset="0" stop-color="#f6f6f6"/><stop offset="1" stop-color="#c4c4c4"/></radialGradient>
<radialGradient id="gDome" cx="0.55" cy="0.5" r="0.6"><stop offset="0" stop-color="#ffffff"/><stop offset="1" stop-color="#8a8a8a"/></radialGradient>
<radialGradient id="gSm" cx="0.5" cy="0.45" r="0.6"><stop offset="0" stop-color="#fafafa"/><stop offset="1" stop-color="#9a9a9a"/></radialGradient>
<radialGradient id="gSun" cx="0.5" cy="0.5" r="0.5"><stop offset="0" stop-color="#fff36a"/><stop offset="1" stop-color="#f1d800"/></radialGradient>

</defs>
<circle cx="550.3" cy="133.8" r="74.8" fill="none" stroke="#000" stroke-width="3"/>
<circle cx="547.8" cy="131" r="53.2" fill="none" stroke="#000" stroke-width="3"/>
<g>
  <!-- stator bar -->
  <path d="M400.2,91.2 L470.8,116.6 L468.6,123.4 L398.2,97.8 Z" fill="#b9b9b9" stroke="#4a4a4a" stroke-width="0.7"/>
  <path d="M400.5,92.2 L470.5,117.4 L469.7,119.6 L399.7,94.4 Z" fill="#f8f8f8"/>
  <path d="M399.7,94.4 L469.7,119.6" stroke="#666" stroke-width="0.5"/>
  <!-- rods to delta -->
  <path d="M448,84 L461,88.5 L460,91.5 L447,87 Z" fill="#f4f4f4" stroke="#555" stroke-width="0.5"/>
  <path d="M446,91 L459,94.5 L458.5,97 L445.5,93.5 Z" fill="#f4f4f4" stroke="#555" stroke-width="0.5"/>
  <!-- barrels -->
  <ellipse cx="428" cy="89.5" rx="22" ry="7.5" transform="rotate(22 428 89.5)" fill="url(#gBarrel2)" stroke="#444" stroke-width="0.6"/>
  <ellipse cx="431.5" cy="71.8" rx="24.8" ry="8.0" transform="rotate(23 431.5 71.8)" fill="url(#gBarrel)" stroke="#444" stroke-width="0.6"/>
  <ellipse cx="433.5" cy="81.5" rx="23.5" ry="9.6" transform="rotate(23 433.5 81.5)" fill="url(#gBarrel2)" stroke="#444" stroke-width="0.6"/>
  <ellipse cx="411.5" cy="65.8" rx="6" ry="3.8" transform="rotate(23 411.5 65.8)" fill="#a0a0a0" stroke="#444" stroke-width="0.5"/>
  <!-- end cap -->
  <ellipse cx="405.6" cy="80.2" rx="5.2" ry="14.4" transform="rotate(23.6 405.6 80.2)" fill="url(#gCap)" stroke="#3a3a3a" stroke-width="0.7"/>
  <!-- delta -->
  <ellipse cx="465.5" cy="94.8" rx="8.6" ry="10.6" transform="rotate(15 465.5 94.8)" fill="url(#gDelta)" stroke="#444" stroke-width="0.6"/>
  <!-- Fo block -->
  <path d="M474.5,82.8 L501,91.6 Q504.5,93 503.6,96.5 L496.2,126 Q495.2,129.4 491.8,128.4 L468,120.2 Z" fill="url(#gFo)" stroke="#3a3a3a" stroke-width="0.7"/>
  <ellipse cx="471.3" cy="101.5" rx="4.6" ry="19" transform="rotate(19 471.3 101.5)" fill="url(#gFace)" stroke="#555" stroke-width="0.6"/>
  <path d="M470.6,105.6 L499.5,115.5" stroke="#444" stroke-width="0.6" fill="none"/>
  <path d="M471,105.6 Q468.5,112 468.8,120" stroke="#555" stroke-width="0.5" fill="none"/>
</g>
<g transform="translate(0,262) scale(1,-1)">
  <!-- stator bar -->
  <path d="M400.2,91.2 L470.8,116.6 L468.6,123.4 L398.2,97.8 Z" fill="#b9b9b9" stroke="#4a4a4a" stroke-width="0.7"/>
  <path d="M400.5,92.2 L470.5,117.4 L469.7,119.6 L399.7,94.4 Z" fill="#f8f8f8"/>
  <path d="M399.7,94.4 L469.7,119.6" stroke="#666" stroke-width="0.5"/>
  <!-- rods to delta -->
  <path d="M448,84 L461,88.5 L460,91.5 L447,87 Z" fill="#f4f4f4" stroke="#555" stroke-width="0.5"/>
  <path d="M446,91 L459,94.5 L458.5,97 L445.5,93.5 Z" fill="#f4f4f4" stroke="#555" stroke-width="0.5"/>
  <!-- barrels -->
  <ellipse cx="428" cy="89.5" rx="22" ry="7.5" transform="rotate(22 428 89.5)" fill="url(#gBarrel2)" stroke="#444" stroke-width="0.6"/>
  <ellipse cx="431.5" cy="71.8" rx="24.8" ry="8.0" transform="rotate(23 431.5 71.8)" fill="url(#gBarrel)" stroke="#444" stroke-width="0.6"/>
  <ellipse cx="433.5" cy="81.5" rx="23.5" ry="9.6" transform="rotate(23 433.5 81.5)" fill="url(#gBarrel2)" stroke="#444" stroke-width="0.6"/>
  <ellipse cx="411.5" cy="65.8" rx="6" ry="3.8" transform="rotate(23 411.5 65.8)" fill="#a0a0a0" stroke="#444" stroke-width="0.5"/>
  <!-- end cap -->
  <ellipse cx="405.6" cy="80.2" rx="5.2" ry="14.4" transform="rotate(23.6 405.6 80.2)" fill="url(#gCap)" stroke="#3a3a3a" stroke-width="0.7"/>
  <!-- delta -->
  <ellipse cx="465.5" cy="94.8" rx="8.6" ry="10.6" transform="rotate(15 465.5 94.8)" fill="url(#gDelta)" stroke="#444" stroke-width="0.6"/>
  <!-- Fo block -->
  <path d="M474.5,82.8 L501,91.6 Q504.5,93 503.6,96.5 L496.2,126 Q495.2,129.4 491.8,128.4 L468,120.2 Z" fill="url(#gFo)" stroke="#3a3a3a" stroke-width="0.7"/>
  <ellipse cx="471.3" cy="101.5" rx="4.6" ry="19" transform="rotate(19 471.3 101.5)" fill="url(#gFace)" stroke="#555" stroke-width="0.6"/>
  <path d="M470.6,105.6 L499.5,115.5" stroke="#444" stroke-width="0.6" fill="none"/>
  <path d="M471,105.6 Q468.5,112 468.8,120" stroke="#555" stroke-width="0.5" fill="none"/>
</g>
<ellipse cx="461.6" cy="131" rx="8.6" ry="11.8" fill="url(#gDome)" stroke="#555" stroke-width="0.5"/>
<ellipse cx="475.3" cy="131.4" rx="8" ry="5" fill="url(#gSm)" stroke="#555" stroke-width="0.5"/>
<line x1="451.3" y1="103.6" x2="496.39" y2="121.56" stroke="#000" stroke-width="3.4"/>
<path d="M501.50,123.60 L494.13,124.54 L496.79,117.85 Z" fill="#000"/>
<line x1="450.2" y1="158.3" x2="496.39" y2="139.84" stroke="#000" stroke-width="3.4"/>
<path d="M501.50,137.80 L496.80,143.55 L494.13,136.87 Z" fill="#000"/>
<text x="438.4" y="104.2" font-size="11" font-weight="bold">H<tspan font-size="7.5" dy="-5">+</tspan></text>
<text x="503.4" y="127" font-size="11" font-weight="bold">H<tspan font-size="7.5" dy="-5">+</tspan></text>
<text x="503.4" y="141.8" font-size="11" font-weight="bold">H<tspan font-size="7.5" dy="-5">+</tspan></text>
<text x="436" y="165.3" font-size="11" font-weight="bold">H<tspan font-size="7.5" dy="-5">+</tspan></text>
<path d="M376.8,84.6 Q388,89 400,83.4" fill="none" stroke="#000" stroke-width="5.4"/>
<path d="M417.6,60.8 Q416.5,50.5 410,46.8" fill="none" stroke="#000" stroke-width="5.4"/>
<path d="M403.4,42.8 L413.2,41.2 L406.2,53.4 Z" fill="#000"/>
<path d="M398.8,168.4 Q394,167.2 389.5,169.4" fill="none" stroke="#000" stroke-width="5.2"/>
<path d="M384.2,170.6 L389.8,163.6 L392,175.8 Z" fill="#000"/>
<path d="M395.8,216.6 Q406.5,211.5 411,201.4" fill="none" stroke="#000" stroke-width="5.4"/>
<line x1="499" y1="23.4" x2="482.2" y2="70.6" stroke="#000" stroke-width="2"/>
<line x1="474" y1="68.8" x2="490.3" y2="74.4" stroke="#000" stroke-width="2"/>
<line x1="509.5" y1="217.3" x2="542.4" y2="171.8" stroke="#000" stroke-width="2.9" stroke-dasharray="9,8.7"/>
<path d="M546.9,165.1 L538.9,168.6 L545.4,173.4 Z" fill="#000"/>
<path d="M500.30,227.00 L502.00,224.60 L500.30,220.80 L498.60,224.60 Z" fill="#ece27a" stroke="#55501c" stroke-width="0.7" stroke-linejoin="round"/><path d="M503.27,228.23 L506.17,227.74 L507.65,223.85 L503.76,225.33 Z" fill="#ece27a" stroke="#55501c" stroke-width="0.7" stroke-linejoin="round"/><path d="M504.50,231.20 L506.90,232.90 L510.70,231.20 L506.90,229.50 Z" fill="#ece27a" stroke="#55501c" stroke-width="0.7" stroke-linejoin="round"/><path d="M503.27,234.17 L503.76,237.07 L507.65,238.55 L506.17,234.66 Z" fill="#ece27a" stroke="#55501c" stroke-width="0.7" stroke-linejoin="round"/><path d="M500.30,235.40 L498.60,237.80 L500.30,241.60 L502.00,237.80 Z" fill="#ece27a" stroke="#55501c" stroke-width="0.7" stroke-linejoin="round"/><path d="M497.33,234.17 L494.43,234.66 L492.95,238.55 L496.84,237.07 Z" fill="#ece27a" stroke="#55501c" stroke-width="0.7" stroke-linejoin="round"/><path d="M496.10,231.20 L493.70,229.50 L489.90,231.20 L493.70,232.90 Z" fill="#ece27a" stroke="#55501c" stroke-width="0.7" stroke-linejoin="round"/><path d="M497.33,228.23 L496.84,225.33 L492.95,223.85 L494.43,227.74 Z" fill="#ece27a" stroke="#55501c" stroke-width="0.7" stroke-linejoin="round"/>
<circle cx="500.3" cy="231.2" r="4.9" fill="#f6e52c" stroke="#8a7d10" stroke-width="0.6"/>
<text x="361" y="43.8" font-size="10.3">ADP + Pi</text>
<text x="356.3" y="82" font-size="10.3">ATP</text>
<text x="339" y="175" font-size="10.3">ADP + Pi</text>
<text x="373" y="218.8" font-size="10.3">ATP</text>
<text x="502" y="17.8" font-size="10.3">Oligomycin</text>
<text x="520.3" y="226.3" font-size="10.3">IF protons accumulated</text>
<text x="484.5" y="252" font-size="10.3">ACMA</text>
<text x="340.30" y="18.00" font-size="23" text-anchor="start" font-weight="bold" fill="#000">b</text>
</svg>
</body></html>
